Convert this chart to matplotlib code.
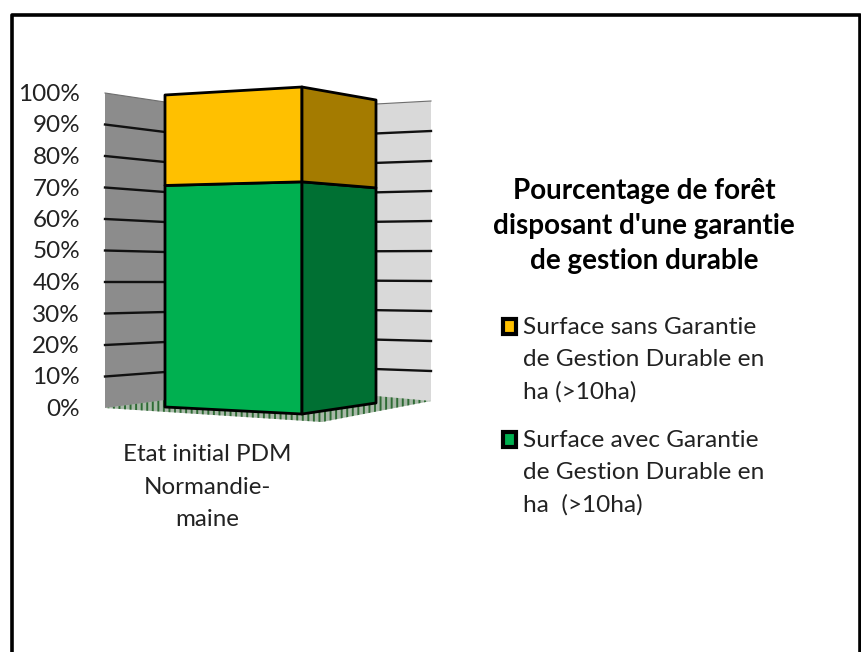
import matplotlib
matplotlib.use('Agg')
from matplotlib import pyplot as plt
from matplotlib.patches import Polygon, Rectangle

plt.rcParams['font.family'] = ['Lato', 'DejaVu Sans']
plt.rcParams['hatch.linewidth'] = 1.4

# values
tick_values = [0, 10, 20, 30, 40, 50, 60, 70, 80, 90, 100]
tick_labels = ['0%', '10%', '20%', '30%', '40%', '50%', '60%', '70%', '80%', '90%', '100%']
category = 'Etat initial PDM\nNormandie-\nmaine'
values_with = [71]
values_without = [29]
label_without = 'Surface sans Garantie\nde Gestion Durable en\nha (>10ha)'
label_with = 'Surface avec Garantie\nde Gestion Durable en\nha  (>10ha)'
title = "Pourcentage de forêt\ndisposant d'une garantie\nde gestion durable"

YELLOW = '#FFC000'
GREEN = '#00B050'
DARK_YELLOW = '#A47B00'
DARK_GREEN = '#007033'

# fake 3D box: each vertical edge is (x, y at 0%, y at 100%) in pixels
LEFT_WALL_A = (105, 408, 93)
LEFT_WALL_B = (165, 402, 102)
RIGHT_WALL_A = (376, 398.5, 104)
RIGHT_WALL_B = (431, 401, 101)
BAR_LEFT = (165, 407, 95)
BAR_MID = (302, 414, 87)
BAR_RIGHT = (376, 403, 100)


def pt(edge, value):
    x, y0, y100 = edge
    return (x, y0 + (y100 - y0) * value / 100)


def face(ax, e1, e2, low, high, color, lw=2.0):
    ax.add_patch(Polygon([pt(e1, low), pt(e2, low), pt(e2, high), pt(e1, high)],
                         closed=True, facecolor=color, edgecolor='black', lw=lw,
                         joinstyle='round', zorder=5))


fig = plt.figure(figsize=(8.61, 6.52), dpi=100)
ax = fig.add_axes([0, 0, 1, 1])
ax.set_xlim(0, 861)
ax.set_ylim(652, 0)
ax.axis('off')

# frame, open at the bottom
ax.plot([12, 12, 859.5, 859.5], [652, 15, 15, 652], color='black', lw=2.6, zorder=1)

# walls
for e1, e2, color in [(LEFT_WALL_A, LEFT_WALL_B, '#8C8C8C'), (RIGHT_WALL_A, RIGHT_WALL_B, '#D9D9D9')]:
    ax.add_patch(Polygon([pt(e1, 0), pt(e2, 0), pt(e2, 100), pt(e1, 100)],
                         closed=True, facecolor=color, edgecolor='none', zorder=2))
    for v in tick_values:
        p1, p2 = pt(e1, v), pt(e2, v)
        if v == 100:
            ax.plot([p1[0], p2[0]], [p1[1], p2[1]], color='#6e6e6e', lw=0.8, zorder=4)
        elif v > 0:
            ax.plot([p1[0], p2[0]], [p1[1], p2[1]], color='#111111', lw=1.7, zorder=4)

# floor
floor = [pt(LEFT_WALL_A, 0), (165, 400), (376, 396), pt(RIGHT_WALL_B, 0), (322, 422)]
ax.add_patch(Polygon(floor, closed=True, facecolor='#a8b8a8', edgecolor='#2E6B34',
                     hatch='|||', lw=0, zorder=3))

# stacked bar
low, mid, high = 0, values_with[0], values_with[0] + values_without[0]
face(ax, BAR_LEFT, BAR_MID, low, mid, GREEN)
face(ax, BAR_LEFT, BAR_MID, mid, high, YELLOW)
face(ax, BAR_MID, BAR_RIGHT, low, mid, DARK_GREEN)
face(ax, BAR_MID, BAR_RIGHT, mid, high, DARK_YELLOW)

# axis labels
for v, lab in zip(tick_values, tick_labels):
    ax.text(80, pt(LEFT_WALL_A, v)[1] + 1.5, lab, ha='right', va='center', fontsize=17.5, color='#222222')

ax.text(207, 487, category, ha='center', va='center', fontsize=17.4, color='#222222', linespacing=1.66)

# title
ax.text(644, 226, title, ha='center', va='center', fontsize=20, fontweight='bold',
        color='black', linespacing=1.42)

# legend
for y, color, lab in [(326.5, YELLOW, label_without), (439.5, GREEN, label_with)]:
    ax.add_patch(Rectangle((503, y - 7.5), 13, 15, facecolor=color, edgecolor='black', lw=3, zorder=5))
    ax.text(523, y + 33, lab, ha='left', va='center', fontsize=17.6, color='#222222', linespacing=1.65)

fig.savefig('out.png', dpi=100)
